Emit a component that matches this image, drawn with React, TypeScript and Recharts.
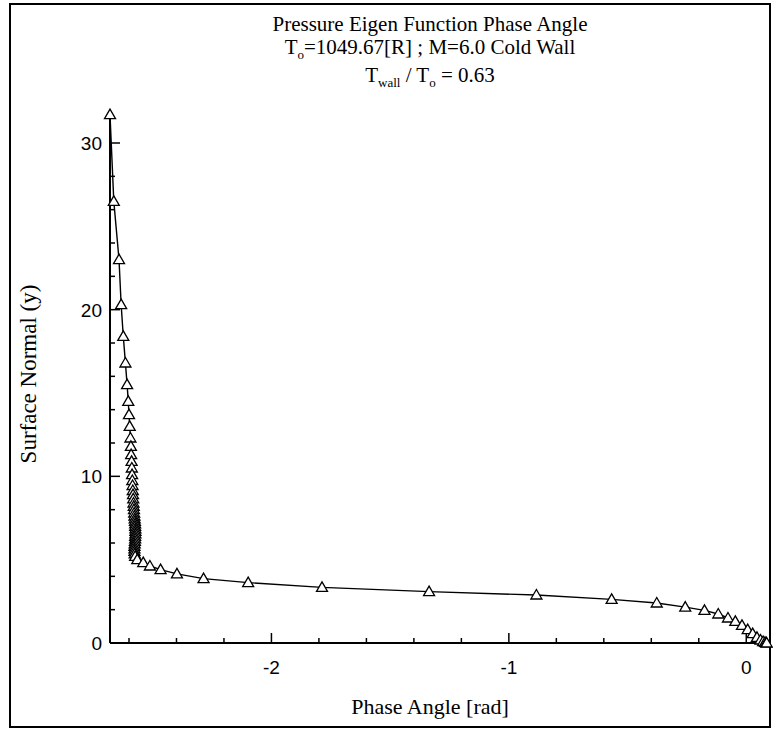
import React from 'react';
import { LineChart, Line, XAxis, YAxis } from 'recharts';

// Phase angle [rad] along the curve (top of boundary layer down to the wall)
const phaseAngle = [
  -2.68, -2.664, -2.642, -2.633, -2.624, -2.615, -2.608, -2.603, -2.6, -2.597,
  -2.594, -2.592, -2.591, -2.589, -2.588, -2.587, -2.586, -2.585, -2.584, -2.583,
  -2.582, -2.581, -2.58, -2.579, -2.578, -2.577, -2.576, -2.575, -2.574, -2.574,
  -2.573, -2.573, -2.573, -2.574, -2.574, -2.575, -2.576, -2.577, -2.577, -2.577,
  -2.576, -2.574, -2.565, -2.54, -2.512, -2.467, -2.398, -2.286, -2.098, -1.787,
  -1.336, -0.884, -0.567, -0.377, -0.257, -0.176, -0.118, -0.077, -0.046, -0.018,
  0.006, 0.027, 0.045, 0.06, 0.071, 0.079, 0.084, 0.086,
];

// Surface normal (y)
const surfaceNormal = [
  31.7, 26.5, 23.0, 20.3, 18.4, 16.8, 15.5, 14.5, 13.7, 13.0,
  12.3, 11.8, 11.3, 10.9, 10.5, 10.1, 9.75, 9.45, 9.15, 8.9,
  8.65, 8.4, 8.2, 8.0, 7.8, 7.62, 7.45, 7.3, 7.15, 7.0,
  6.85, 6.7, 6.55, 6.4, 6.25, 6.1, 5.95, 5.8, 5.65, 5.5,
  5.35, 5.2, 5.0, 4.82, 4.62, 4.4, 4.15, 3.86, 3.62, 3.34,
  3.08, 2.88, 2.62, 2.4, 2.15, 1.96, 1.74, 1.5, 1.3, 1.06,
  0.8, 0.56, 0.34, 0.18, 0.09, 0.04, 0.01, 0.0,
];

const xTicks = [-2.6, -2.4, -2.2, -2, -1.8, -1.6, -1.4, -1.2, -1, -0.8, -0.6, -0.4, -0.2, 0];
const xLabelTicks = [-2, -1, 0];
const yTicks = [0, 2, 4, 6, 8, 10, 12, 14, 16, 18, 20, 22, 24, 26, 28, 30];
const yLabelTicks = [0, 10, 20, 30];

const xDomain = [-2.68, 0.1];
const yDomain = [0, 31.8];

const titleLine1 = 'Pressure Eigen Function Phase Angle';
const xLabel = 'Phase Angle [rad]';
const yLabel = 'Surface Normal (y)';

const data = phaseAngle.map((x, i) => ({ x, y: surfaceNormal[i] }));

const SERIF = '"Liberation Serif", "Times New Roman", serif';
const SANS = '"Liberation Sans", Arial, sans-serif';

const isMajor = (list: number[], v: number) => list.some((t) => Math.abs(t - v) < 1e-6);

const XTick = (props: any) => {
  const { x, y, payload } = props;
  const v = payload.value;
  const major = isMajor(xLabelTicks, v);
  return (
    <g>
      <line x1={x} y1={y} x2={x} y2={y - (major ? 10 : 5)} stroke="#000" strokeWidth={1.5} />
      {major && (
        <text x={x} y={y + 31} textAnchor="middle" fontFamily={SANS} fontSize={19} fill="#000">
          {String(v)}
        </text>
      )}
    </g>
  );
};

const YTick = (props: any) => {
  const { x, y, payload } = props;
  const v = payload.value;
  const major = isMajor(yLabelTicks, v);
  return (
    <g>
      <line x1={x} y1={y} x2={x + (major ? 10 : 5)} y2={y} stroke="#000" strokeWidth={1.5} />
      {major && (
        <text x={x - 8} y={y + 7} textAnchor="end" fontFamily={SANS} fontSize={19} fill="#000">
          {String(v)}
        </text>
      )}
    </g>
  );
};

const Tri = (props: any) => {
  const { cx, cy } = props;
  if (cx == null || cy == null) return <g />;
  return (
    <polygon
      points={`${cx},${cy - 5.5} ${cx - 5.5},${cy + 4} ${cx + 5.5},${cy + 4}`}
      fill="#fff"
      stroke="#000"
      strokeWidth={1.3}
    />
  );
};

export default function App() {
  return (
    <div style={{ position: 'absolute', left: 0, top: 0, width: 773, height: 730, background: '#fff' }}>
      <div
        style={{
          position: 'absolute',
          left: 9,
          top: 3,
          width: 762,
          height: 725,
          border: '2px solid #000',
          boxSizing: 'border-box',
        }}
      />
      <LineChart
        width={773}
        height={730}
        data={data}
        margin={{ top: 113, right: 3, bottom: 0, left: 0 }}
        style={{ position: 'absolute', left: 0, top: 0 }}
      >
        <XAxis
          dataKey="x"
          type="number"
          domain={xDomain}
          ticks={xTicks}
          interval={0}
          tickSize={0}
          tickMargin={0}
          height={87}
          axisLine={{ stroke: '#000', strokeWidth: 2 }}
          tickLine={false}
          tick={<XTick />}
        />
        <YAxis
          dataKey="y"
          type="number"
          domain={yDomain}
          ticks={yTicks}
          interval={0}
          tickSize={0}
          tickMargin={0}
          width={110}
          axisLine={{ stroke: '#000', strokeWidth: 2 }}
          tickLine={false}
          tick={<YTick />}
        />
        <Line
          type="linear"
          dataKey="y"
          stroke="#000"
          strokeWidth={1.4}
          dot={<Tri />}
          activeDot={false}
          isAnimationActive={false}
        />
      </LineChart>
      <svg
        width={773}
        height={730}
        style={{ position: 'absolute', left: 0, top: 0, pointerEvents: 'none' }}
      >
        <g fontFamily={SERIF} fill="#000" textAnchor="middle">
          <text x={430} y={31} fontSize={21}>{titleLine1}</text>
          <text x={430} y={54} fontSize={21}>
            <tspan>T</tspan>
            <tspan fontSize={13} dy={5}>o</tspan>
            <tspan dy={-5}>=1049.67[R] ; M=6.0 Cold Wall</tspan>
          </text>
          <text x={430} y={82} fontSize={21}>
            <tspan>T</tspan>
            <tspan fontSize={13} dy={5}>wall</tspan>
            <tspan dy={-5}> / T</tspan>
            <tspan fontSize={13} dy={5}>o</tspan>
            <tspan dy={-5}> = 0.63</tspan>
          </text>
          <text x={430} y={714} fontSize={22}>{xLabel}</text>
          <text x={36} y={374} fontSize={23} transform="rotate(-90 36 374)">{yLabel}</text>
        </g>
      </svg>
    </div>
  );
}
